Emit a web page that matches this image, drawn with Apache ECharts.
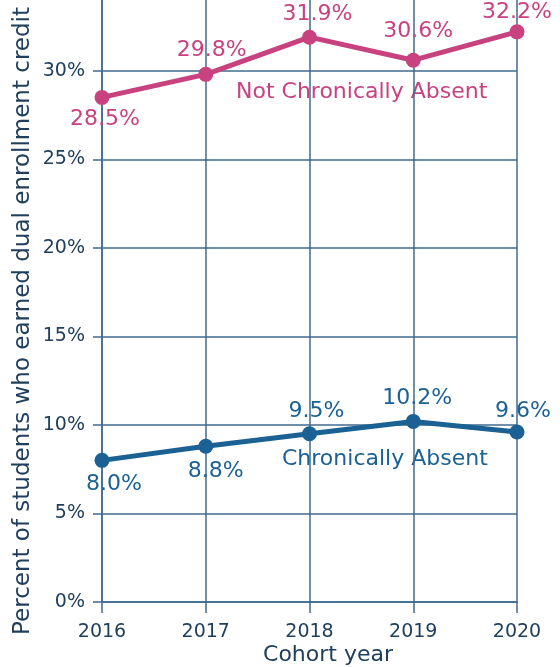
<!DOCTYPE html>
<html><head><meta charset="utf-8">
<script src="https://cdn.jsdelivr.net/npm/echarts@6/dist/echarts.min.js"></script>
<style>html,body{margin:0;padding:0;background:#fff}#c{width:560px;height:667px}</style>
</head><body><div id="c"></div>
<script>
const categories = ['2016','2017','2018','2019','2020'];
const notChronic = [28.5, 29.8, 31.9, 30.6, 32.2];
const chronic = [8.0, 8.8, 9.5, 10.2, 9.6];
const yTicks = [0,5,10,15,20,25,30];

const PINK = '#c8427f', BLUE = '#1b6194', GRID = '#3f6a8e', TEXT = '#203f5c';
const FONT = 'DejaVu Sans';
// label centre offsets from each point (placement only)
const pinkLabelOffset = [[3,22],[6,-24],[8,-23],[5,-29],[0,-20]];
const blueLabelOffset = [[12,24],[10,25],[7,-23],[4,-23],[6,-21]];

function mk(vals, offs){
  return vals.map((v,i)=>({value:v, label:{position:'inside', offset:offs[i]}}));
}
const gridColors = yTicks.map(()=>GRID).concat(['rgba(0,0,0,0)','rgba(0,0,0,0)']);

const chart = echarts.init(document.getElementById('c'), null, {renderer:'canvas'});
chart.setOption({
  animation:false,
  backgroundColor:'#ffffff',
  grid:{left:102, right:43, top:0, bottom:65},
  xAxis:{type:'category', data:categories, boundaryGap:false,
    axisLine:{show:true, lineStyle:{color:GRID, width:1.5}},
    axisTick:{show:true, alignWithLabel:true, length:11, lineStyle:{color:GRID, width:1.5}},
    splitLine:{show:true, lineStyle:{color:GRID, width:1.5}},
    axisLabel:{color:TEXT, fontFamily:FONT, fontSize:19, margin:21}
  },
  yAxis:{type:'value', min:0, max:34, interval:5,
    axisLine:{show:true, lineStyle:{color:GRID, width:1.5}},
    axisTick:{show:true, length:9, customValues:yTicks, lineStyle:{color:GRID, width:1.5}},
    splitLine:{show:true, lineStyle:{color:gridColors, width:1.5}},
    axisLabel:{color:TEXT, fontFamily:FONT, fontSize:19, margin:17,
      formatter:v=> yTicks.indexOf(v)>=0 ? v+'%' : ''}
  },
  series:[
    {type:'line', data:mk(notChronic, pinkLabelOffset), symbol:'circle', symbolSize:15,
      lineStyle:{color:PINK, width:5}, itemStyle:{color:PINK},
      label:{show:true, color:PINK, fontFamily:FONT, fontSize:22, formatter:p=>p.value.toFixed(1)+'%'}},
    {type:'line', data:mk(chronic, blueLabelOffset), symbol:'circle', symbolSize:15,
      lineStyle:{color:BLUE, width:5}, itemStyle:{color:BLUE},
      label:{show:true, color:BLUE, fontFamily:FONT, fontSize:22, formatter:p=>p.value.toFixed(1)+'%'}}
  ],
  graphic:[
    {type:'text', x:236, y:92, style:{text:'Not Chronically Absent', fill:PINK, font:'22px "DejaVu Sans"', verticalAlign:'middle'}},
    {type:'text', x:282, y:459, style:{text:'Chronically Absent', fill:BLUE, font:'22px "DejaVu Sans"', verticalAlign:'middle'}},
    {type:'text', x:23, y:321, rotation:Math.PI/2, style:{text:'Percent of students who earned dual enrollment credit', fill:TEXT, font:'23px "DejaVu Sans"', align:'center', verticalAlign:'middle'}},
    {type:'text', x:328, y:655, style:{text:'Cohort year', fill:TEXT, font:'22px "DejaVu Sans"', align:'center', verticalAlign:'middle'}}
  ]
});
</script></body></html>
